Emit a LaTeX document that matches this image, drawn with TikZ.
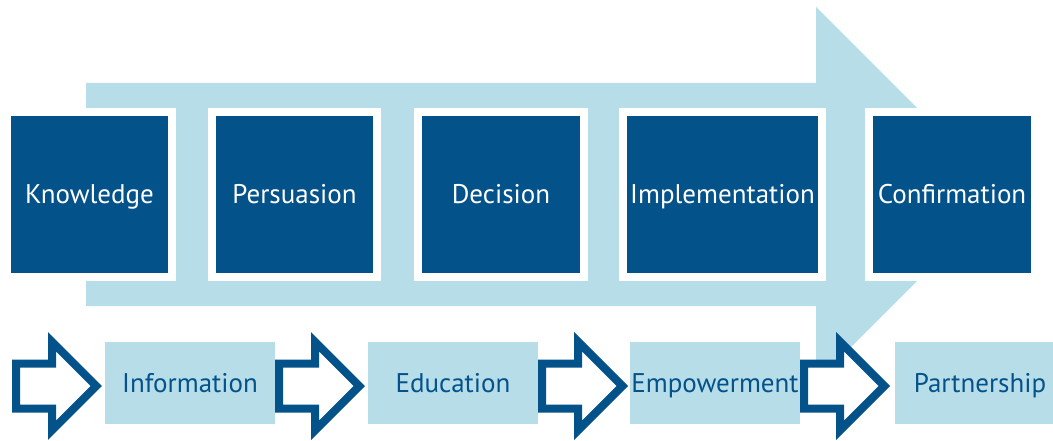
\documentclass[tikz,border=0pt]{standalone}
\usepackage{fontspec}
\setmainfont{PT Sans}
\definecolor{deepblue}{HTML}{03528A}
\definecolor{paleblue}{HTML}{B7DDE9}
\begin{document}
\begin{tikzpicture}[x=1pt,y=-1pt,
  label text/.style={font=\fontsize{27}{30}\selectfont, text height=19pt, text depth=0pt},
  stage/.style={rectangle, fill=deepblue, draw=white, line width=8pt,
    minimum height=165pt, text=white, label text, inner sep=0pt},
  outcome/.style={rectangle, fill=paleblue, draw=none, minimum width=170pt,
    minimum height=82pt, text=deepblue, label text, inner sep=0pt},
  hollowarrow/.style={draw=deepblue, fill=white, line width=8pt, miter limit=10, line join=miter}]
% page frame
\path[use as bounding box, fill=white] (0,0) rectangle (1053,441);

% large background arrow
\fill[paleblue] (86,83) -- (816,83) -- (816,7) -- (1003.5,194.5) -- (816,382)
  -- (816,306) -- (86,306) -- cycle;

% stages of the process
\node[stage, minimum width=165pt] (know) at (89.5,194.5) {Knowledge};
\node[stage, minimum width=165pt] (pers) at (294.5,194.5) {Persuasion};
\node[stage, minimum width=166pt] (deci) at (501,194.5) {Decision};
\node[stage, minimum width=199pt] (impl) at (722.5,194.5) {Implementation};
\node[stage, minimum width=166pt] (conf) at (952,194.5) {Confirmation};

% outcomes
\node[outcome] (info) at (190,383) {Information};
\node[outcome] (educ) at (453,383) {Education};
\node[outcome] (empo) at (715,383) {Empowerment};
\node[outcome] (part) at (980,383) {Partnership};

% hollow block arrows leading into each outcome
\foreach \x in {12, 275, 538, 800}{
  \draw[hollowarrow, shift={(\x,386)}]
    (4,-22.5) -- (40,-22.5) -- (40,-44.34) -- (84.34,0) -- (40,44.34)
    -- (40,22.5) -- (4,22.5) -- cycle;
}
\end{tikzpicture}
\end{document}
